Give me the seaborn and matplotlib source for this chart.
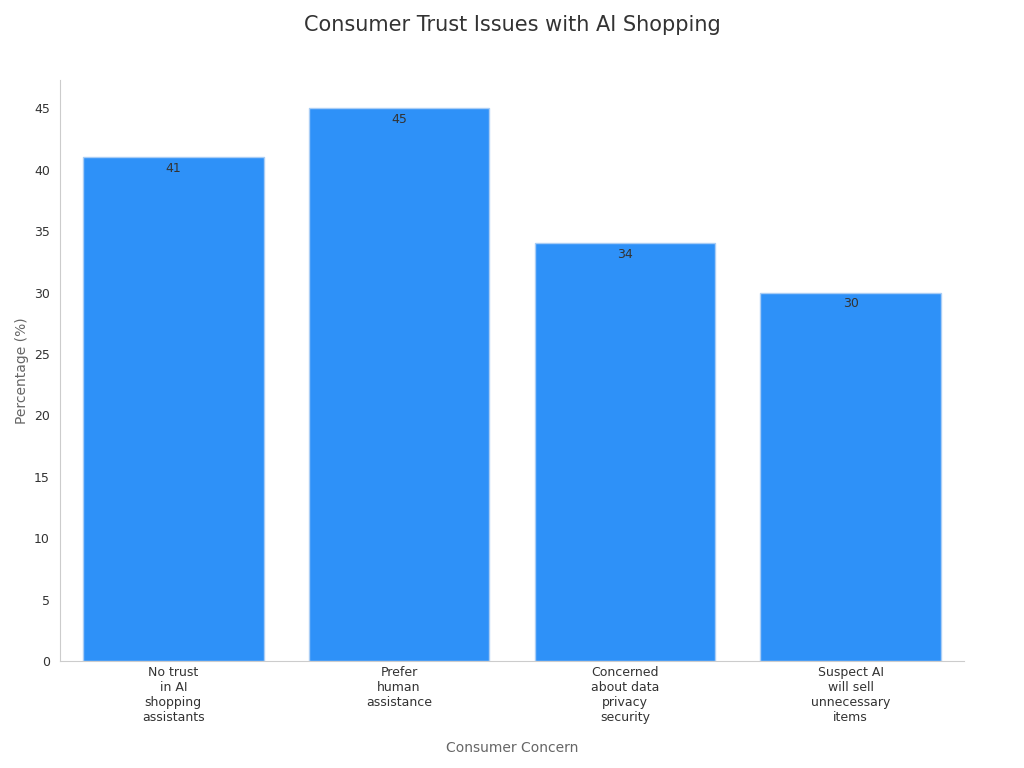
import matplotlib
matplotlib.use("Agg")
import matplotlib.pyplot as plt
import seaborn as sns
import pandas as pd

categories = ["No trust\nin AI\nshopping\nassistants", "Prefer\nhuman\nassistance",
              "Concerned\nabout data\nprivacy\nsecurity", "Suspect AI\nwill sell\nunnecessary\nitems"]
values = [41, 45, 34, 30]

sns.set_style("white")
plt.rcParams['font.family'] = ['DejaVu Sans']
fig, ax = plt.subplots(figsize=(10.24, 7.68), dpi=100)
df = pd.DataFrame({"c": categories, "v": values})
sns.barplot(data=df, x="c", y="v", color="#2e91f8", saturation=1, width=0.8, ax=ax,
            edgecolor="#a9cdf5", linewidth=1)
for i, v in enumerate(values):
    ax.text(i, v - 0.4, str(v), ha="center", va="top", fontsize=9, color="#333333")
ax.set_title("Consumer Trust Issues with AI Shopping", fontsize=15, color="#333333", pad=35)
ax.set_xlabel("Consumer Concern", fontsize=10, color="#666666", labelpad=12)
ax.set_ylabel("Percentage (%)", fontsize=10, color="#666666")
ax.set_ylim(0, 47.3)
ax.set_yticks(range(0, 46, 5))
ax.tick_params(axis="both", labelsize=9, colors="#333333", length=4)
ax.tick_params(axis="x", length=0)
ax.tick_params(axis="y", color="#999999")
for s in ["top", "right"]:
    ax.spines[s].set_visible(False)
for s in ["left", "bottom"]:
    ax.spines[s].set_color("#cccccc")
ax.set_xlim(-0.5, 3.5)
plt.subplots_adjust(left=0.059, right=0.941, top=0.896, bottom=0.139)
fig.savefig("out.png")
